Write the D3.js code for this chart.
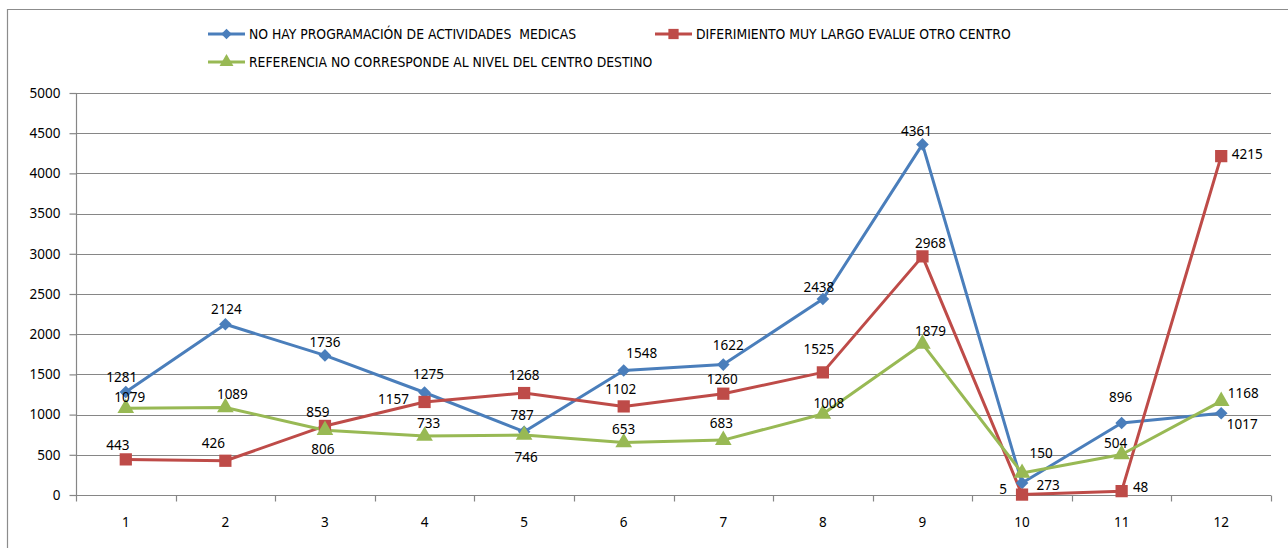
<!DOCTYPE html>
<html><head><meta charset="utf-8">
<script src="https://cdn.jsdelivr.net/npm/d3@7"></script>
<style>
body{margin:0;background:#fff;}
svg{display:block;}
text{font-family:"Noto Sans",sans-serif;}
.leg{font-family:"Liberation Sans Narrow","DejaVu Sans Condensed","Noto Sans",sans-serif;}
</style></head>
<body><svg id="c" width="1288" height="548"></svg>
<script>
const categories = ["1","2","3","4","5","6","7","8","9","10","11","12"];
const seriesNames = ["NO HAY PROGRAMACIÓN DE ACTIVIDADES  MEDICAS","DIFERIMIENTO MUY LARGO EVALUE OTRO CENTRO","REFERENCIA NO CORRESPONDE AL NIVEL DEL CENTRO DESTINO"];
const noHayProgramacion = [1281,2124,1736,1275,787,1548,1622,2438,4361,150,896,1017];
const diferimientoLargo = [443,426,859,1157,1268,1102,1260,1525,2968,5,48,4215];
const referenciaNivel = [1079,1089,806,733,746,653,683,1008,1879,273,504,1168];
const yTicks = [0,500,1000,1500,2000,2500,3000,3500,4000,4500,5000];

// label offsets relative to the marker (layout only)
const labelOffsets = [
  [[-4,-15],[1,-15],[0,-13],[4,-18],[-2,-17],[18,-17],[5,-19],[-4,-12],[-6,-13],[19,-30],[-1,-26],[21,11]],
  [[-8,-14],[-12,-18],[-7,-14],[-31,-3],[0,-18],[-3,-17],[-1,-15],[-4,-23],[8,-13],[-19,-5],[19,-4],[26,-2]],
  [[4,-11],[7,-13],[-2,19],[4,-13],[2,22],[0,-13],[-2,-17],[6,-11],[8,-13],[26,12],[-6,-11],[22,-8]]
];
const colors = ["#4A7EBB","#BE4B48","#98B954"];
const symbols = [d3.symbolSquare, d3.symbolSquare, d3.symbolTriangle];
const symRot = [45, 0, 0];
const symSizes = [80, 150, 120];
const allSeries = [noHayProgramacion, diferimientoLargo, referenciaNivel];

const svg = d3.select("#c");
const L=76, R=1271, T=93, B=495;
const x = d3.scaleBand().domain(categories).range([L,R]);
const y = d3.scaleLinear().domain([0,5000]).range([B,T]);
const cx = c => x(c) + x.bandwidth()/2;
const axisCol = "#868686";

// outer border
svg.append("path").attr("d","M7.5,548 V9.5 H1288").attr("fill","none").attr("stroke","#8c8c8c").attr("stroke-width",1.2);

// gridlines
svg.append("g").selectAll("line").data(yTicks.filter(d=>d>0)).join("line")
  .attr("x1",L).attr("x2",R).attr("y1",d=>Math.round(y(d))+0.5).attr("y2",d=>Math.round(y(d))+0.5)
  .attr("stroke",axisCol).attr("stroke-width",1.2);

// y axis
const ya = svg.append("g").attr("transform",`translate(${L+0.5},0)`)
  .call(d3.axisLeft(y).tickValues(yTicks).tickSize(7).tickPadding(9).tickFormat(d3.format("d")));
ya.selectAll("path,line").attr("stroke",axisCol).attr("stroke-width",1.2);
ya.select(".domain").attr("d",`M0,${T}V${B}`);
ya.selectAll("text").attr("font-family","Noto Sans").attr("font-size",13.5).attr("fill","#000");

// x axis
const xa = svg.append("g").attr("transform",`translate(0,${B+0.5})`)
  .call(d3.axisBottom(x).tickSize(0).tickPadding(22));
xa.select(".domain").attr("stroke",axisCol).attr("stroke-width",1.2).attr("d",`M${L},0H${R}`);
xa.selectAll("text").attr("font-family","Noto Sans").attr("font-size",13.5).attr("fill","#000");
const bounds = categories.map(c=>x(c)).concat([x(categories[categories.length-1])+x.bandwidth()]);
xa.selectAll("line.bt").data(bounds).join("line").attr("class","bt")
  .attr("x1",d=>Math.round(d)+0.5).attr("x2",d=>Math.round(d)+0.5).attr("y1",0).attr("y2",6)
  .attr("stroke",axisCol).attr("stroke-width",1.2);

// lines
allSeries.forEach((vals,si)=>{
  const line = d3.line().x((d,i)=>cx(categories[i])).y(d=>y(d));
  svg.append("path").datum(vals).attr("d",line).attr("fill","none")
    .attr("stroke",colors[si]).attr("stroke-width",3).attr("stroke-linejoin","round");
});
// markers
allSeries.forEach((vals,si)=>{
  svg.append("g").selectAll("path").data(vals).join("path")
    .attr("transform",(d,i)=>`translate(${cx(categories[i])},${y(d)}) rotate(${symRot[si]})`)
    .attr("d",d3.symbol().type(symbols[si]).size(symSizes[si]))
    .attr("fill",colors[si]);
});
// labels
allSeries.forEach((vals,si)=>{
  svg.append("g").selectAll("text").data(vals).join("text")
    .attr("x",(d,i)=>cx(categories[i])+labelOffsets[si][i][0])
    .attr("y",(d,i)=>y(d)+labelOffsets[si][i][1])
    .attr("dy","0.36em").attr("text-anchor","middle")
    .attr("font-size",13.5).attr("fill","#000").text(d=>d);
});

// legend
const legPos = [[208,34],[655,34],[208,62]];
const lg = svg.append("g");
seriesNames.forEach((name,si)=>{
  const [lx,ly] = legPos[si];
  const g = lg.append("g").attr("transform",`translate(${lx},${ly})`);
  g.append("line").attr("x1",0).attr("x2",37).attr("y1",0).attr("y2",0).attr("stroke",colors[si]).attr("stroke-width",3);
  g.append("path").attr("transform",`translate(18.5,0) rotate(${symRot[si]})`).attr("d",d3.symbol().type(symbols[si]).size(symSizes[si]*0.7)).attr("fill",colors[si]);
  g.append("text").attr("class","leg").attr("x",41).attr("y",0).attr("dy","0.36em")
    .attr("font-size",13.8).attr("fill","#000").style("white-space","pre").text(name);
});
</script></body></html>
